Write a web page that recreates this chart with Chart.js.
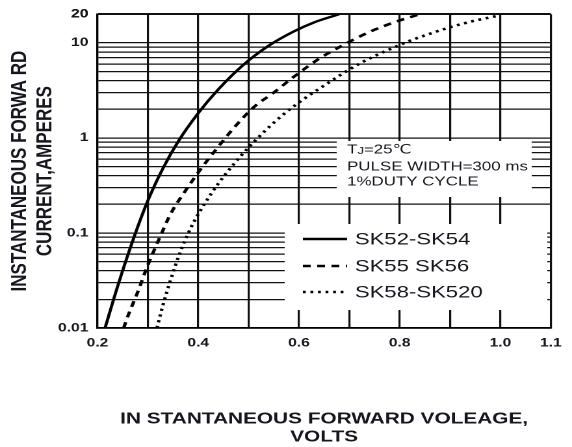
<!DOCTYPE html>
<html>
<head>
<meta charset="utf-8">
<script src="https://cdn.jsdelivr.net/npm/chart.js@4.4.1/dist/chart.umd.min.js"></script>
<style>
  html, body { margin: 0; padding: 0; background: #fff; overflow: hidden; }
  #wrap { width: 572px; height: 447px; overflow: hidden; }
  #c { display: block; transform: scaleX(1.3); transform-origin: 0 0; }
</style>
</head>
<body>
<div id="wrap"><canvas id="c" width="440" height="447"></canvas></div>
<script>
// ---------------- data ----------------
const seriesNames = ['SK52-SK54', 'SK55 SK56', 'SK58-SK520'];

const sk52Volts = [0.215, 0.24, 0.27, 0.30, 0.33, 0.36, 0.40, 0.44, 0.49, 0.54, 0.59, 0.63, 0.68];
const sk52Amps  = [0.01, 0.0275, 0.083, 0.219, 0.479, 0.912, 1.82, 3.24, 5.89, 9.33, 13.2, 16.4, 20];

const sk55Volts = [0.252, 0.26, 0.28, 0.30, 0.325, 0.345, 0.375, 0.405, 0.44, 0.47, 0.51, 0.55, 0.59, 0.64, 0.685, 0.74, 0.79, 0.84];
const sk55Amps  = [0.01, 0.0132, 0.024, 0.046, 0.093, 0.158, 0.28, 0.47, 0.81, 1.26, 2.1, 3.0, 4.4, 6.8, 9.3, 13, 16.5, 20];

const sk58Volts = [0.318, 0.33, 0.346, 0.363, 0.386, 0.413, 0.44, 0.47, 0.50, 0.53, 0.57, 0.61, 0.65, 0.685, 0.72, 0.756, 0.786, 0.82, 0.857, 0.895, 0.947, 1.0];
const sk58Amps  = [0.01, 0.0174, 0.0331, 0.0603, 0.115, 0.204, 0.331, 0.525, 0.794, 1.15, 1.78, 2.57, 3.55, 4.68, 6.03, 7.5, 8.81, 10.5, 12.3, 14.3, 17.0, 19.5];

const xTickValues   = [0.2, 0.3, 0.4, 0.5, 0.6, 0.7, 0.8, 0.9, 1.0, 1.1];
const xLabeledTicks = [0.2, 0.4, 0.6, 0.8, 1.0, 1.1];
const xTickText     = ['0.2', '0.4', '0.6', '0.8', '1.0', '1.1'];

const yDecades      = [0.01, 0.1, 1, 10];
const yLabeledTicks = [0.01, 0.1, 1, 10, 20];
const yTickText     = ['0.01', '0.1', '1', '10', '20'];

const noteLines = ['TJ=25℃', 'PULSE WIDTH=300 ms', '1%DUTY CYCLE'];
const xTitle = ['IN STANTANEOUS FORWARD VOLEAGE,', 'VOLTS'];
const yTitle = ['INSTANTANEOUS FORWA RD', 'CURRENT,AMPERES'];

// --------------- helpers ---------------
const toPoints = (xs, ys) => xs.map((x, i) => ({ x: x, y: ys[i] }));
const yGridValues = [];
yDecades.forEach(d => { for (let m = 1; m <= 9; m++) yGridValues.push(+(d * m).toPrecision(3)); });
yGridValues.push(20);

function labelFor(value, list, texts) {
  for (let i = 0; i < list.length; i++) {
    if (Math.abs(value - list[i]) <= Math.abs(list[i]) * 1e-6) return texts[i];
  }
  return '';
}

const TEXT = '#16161f';

const overlayPlugin = {
  id: 'overlay',
  beforeDatasetsDraw(chart) {
    const ctx = chart.ctx;
    ctx.save();
    ctx.fillStyle = '#ffffff';
    ctx.fillRect(259, 141, 150, 56);   // note box
    ctx.fillRect(219, 224, 202, 86);   // legend box
    ctx.restore();
  },
  afterDatasetsDraw(chart) {
    const ctx = chart.ctx;
    ctx.save();
    ctx.fillStyle = TEXT;
    ctx.textBaseline = 'middle';
    ctx.textAlign = 'left';
    const noteY = [150, 167, 182];
    noteLines.forEach((t, i) => {
      if (i === 0) {
        ctx.font = '13px "Liberation Sans", "DejaVu Sans"';
        ctx.fillText('T', 267, noteY[i]);
        let w = ctx.measureText('T').width;
        ctx.font = '10px "Liberation Sans", "DejaVu Sans"';
        ctx.fillText('J', 267 + w, noteY[i] + 1);
        w += ctx.measureText('J').width;
        ctx.font = '13px "Liberation Sans", "DejaVu Sans"';
        ctx.fillText(t.slice(2), 267 + w, noteY[i]);
      } else {
        ctx.font = '13px "Liberation Sans", "DejaVu Sans"';
        ctx.fillText(t, 267, noteY[i]);
      }
    });
    const legY = [239, 266, 292];
    chart.data.datasets.forEach((ds, i) => {
      ctx.beginPath();
      ctx.strokeStyle = ds.borderColor;
      ctx.lineWidth = ds.borderWidth;
      ctx.setLineDash(ds.borderDash || []);
      ctx.moveTo(233, legY[i]);
      ctx.lineTo(267, legY[i]);
      ctx.stroke();
      ctx.setLineDash([]);
      ctx.fillStyle = TEXT;
      ctx.font = '17px "Liberation Sans", "DejaVu Sans"';
      ctx.fillText(ds.label, 273, legY[i] + 1);
    });
    ctx.restore();
  }
};

const datasets = [
  { label: seriesNames[0], data: toPoints(sk52Volts, sk52Amps), borderColor: '#000', borderWidth: 2.4, borderDash: [] },
  { label: seriesNames[1], data: toPoints(sk55Volts, sk55Amps), borderColor: '#000', borderWidth: 2.6, borderDash: [6, 5] },
  { label: seriesNames[2], data: toPoints(sk58Volts, sk58Amps), borderColor: '#000', borderWidth: 2.6, borderDash: [2.2, 3.6] }
].map(d => Object.assign(d, { pointRadius: 0, fill: false, cubicInterpolationMode: 'monotone' }));

new Chart(document.getElementById('c'), {
  type: 'line',
  data: { datasets: datasets },
  plugins: [overlayPlugin],
  options: {
    responsive: false,
    animation: false,
    devicePixelRatio: 2,
    layout: { padding: { top: 14, right: 4, left: 0, bottom: 0 } },
    plugins: { legend: { display: false }, tooltip: { enabled: false } },
    scales: {
      x: {
        type: 'linear',
        min: 0.2,
        max: 1.1,
        afterBuildTicks: s => { s.ticks = xTickValues.map(v => ({ value: v })); },
        afterFit: s => { s.height = 119; },
        grid: { color: '#111', lineWidth: 1.6, drawTicks: false },
        border: { display: true, color: '#000', width: 1.6 },
        ticks: {
          autoSkip: false, maxRotation: 0, padding: 8, color: TEXT,
          font: { family: '"Liberation Sans", Arial', weight: 'bold', size: 12 },
          callback: v => labelFor(v, xLabeledTicks, xTickText)
        },
        title: {
          display: true, text: xTitle, color: TEXT,
          font: { family: '"Liberation Sans", Arial', weight: 'bold', size: 16, lineHeight: 1.12 },
          padding: { top: 0, bottom: 1 }
        }
      },
      y: {
        type: 'logarithmic',
        min: 0.01,
        max: 20,
        afterBuildTicks: s => { s.ticks = yGridValues.map(v => ({ value: v })); },
        afterFit: s => { s.width = 75; },
        grid: {
          color: '#111', drawTicks: false,
          lineWidth: c => (c.tick && c.tick.value === 20 ? 2 : 1.2)
        },
        border: { display: true, color: '#000', width: 1.6 },
        ticks: {
          autoSkip: false, padding: 7, color: TEXT,
          font: { family: '"Liberation Sans", Arial', weight: 'bold', size: 12 },
          callback: v => labelFor(v, yLabeledTicks, yTickText)
        },
        title: {
          display: true, text: yTitle, color: TEXT,
          font: { family: '"Liberation Sans", Arial', weight: 'bold', size: 17, lineHeight: 1.13 },
          padding: { top: 5.8, bottom: 0 }
        }
      }
    }
  }
});
</script>
</body>
</html>
